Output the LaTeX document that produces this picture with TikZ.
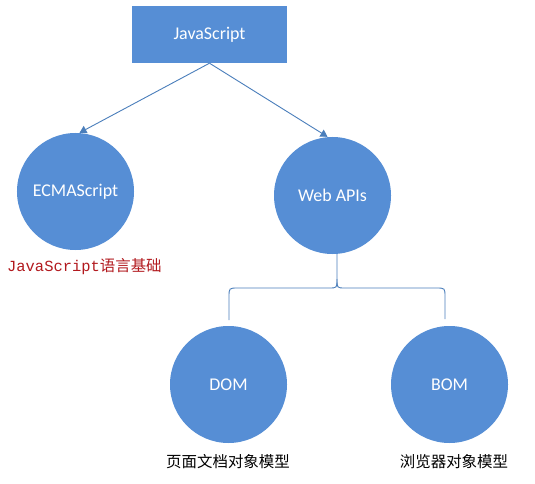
\documentclass[tikz,border=0pt]{standalone}
\usepackage{fontspec}
\setmainfont{Carlito}
\newfontfamily\cjk{Noto Sans CJK SC}
\newfontfamily\monof{Liberation Mono}
\usetikzlibrary{arrows.meta}
\definecolor{fillblue}{HTML}{568ED5}
\definecolor{lineblue}{HTML}{4A7EBB}
\definecolor{darkred}{HTML}{B2191E}
\begin{document}
\begin{tikzpicture}[x=1bp,y=-1bp,
  circ/.style={circle,fill=fillblue,draw=none,minimum size=117bp,inner sep=0pt,text=white,font=\fontsize{18}{20}\selectfont},
  rbox/.style={rectangle,fill=fillblue,draw=none,minimum width=155bp,minimum height=57bp,inner sep=0pt,text=white,font=\fontsize{18}{20}\selectfont},
  conn/.style={draw=lineblue,line width=0.9bp},
  arr/.style={conn,-{Triangle[length=7bp,width=8bp]}},
  captext/.style={font=\cjk\fontsize{15.5}{17}\selectfont,inner sep=0pt}
]
\useasboundingbox (0,0) rectangle (535,484);
\fill[white] (0,0) rectangle (535,484);
\node[rbox] (js) at (209.5,34.5) {JavaScript};
\node[circ] (ecma) at (75.5,191.5) {ECMAScript};
\node[circ] (web) at (332.5,195.5) {Web APIs};
\node[circ] (dom) at (228.5,384.5) {DOM};
\node[circ] (bom) at (449.5,384.5) {BOM};
\draw[arr] (js.south) -- ([xshift=4bp]ecma.north);
\draw[arr] (js.south) -- ([xshift=-5bp]web.north);
\coordinate (split) at (337,279);
\coordinate (domtop) at (229,320);
\coordinate (bomtop) at (445,319);
\draw[conn] ([xshift=4.5bp]web.south) -- (split)
  .. controls (337,288) .. (329,288) -- (238,288)
  .. controls (229,288) .. (229,297) -- (domtop);
\draw[conn] (split)
  .. controls (337,288) .. (345,288) -- (436,288)
  .. controls (445,288) .. (445,297) -- (bomtop);
\node[inner sep=0pt,text=darkred,anchor=west] (ecmacap) at (7,267)
  {\monof\fontsize{15.5}{17}\selectfont JavaScript\cjk 语言基础};
\node[captext] (domcap) at (228,462) {页面文档对象模型};
\node[captext] (bomcap) at (454,462) {浏览器对象模型};
\end{tikzpicture}
\end{document}
